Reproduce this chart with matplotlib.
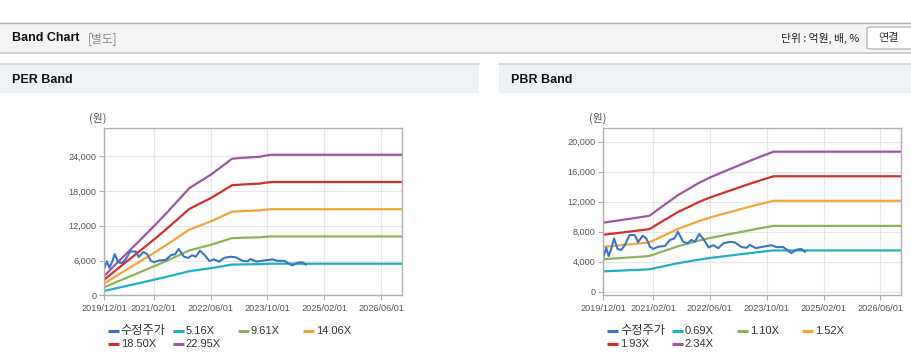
import numpy as np
import pandas as pd
import matplotlib
matplotlib.use('Agg')
import matplotlib.pyplot as plt
from matplotlib.patches import Rectangle, FancyBboxPatch
from matplotlib.lines import Line2D
from matplotlib.ticker import FuncFormatter

plt.rcParams['font.family'] = ['Liberation Sans', 'Noto Sans CJK KR', 'DejaVu Sans']
KR = ['Noto Sans CJK KR', 'Liberation Sans']

W, H = 912, 364

tick_dates = ['2019-12-01', '2021-02-01', '2022-06-01', '2023-10-01', '2025-02-01', '2026-06-01']
tick_labels = ['2019/12/01', '2021/02/01', '2022/06/01', '2023/10/01', '2025/02/01', '2026/06/01']
x_start, x_end = '2019-12-01', '2026-11-27'

# 수정주가 (adjusted price), shared by both charts
price_dates = ['2019-12-02', '2019-12-26', '2020-01-16', '2020-02-10', '2020-03-02', '2020-04-01',
               '2020-05-01', '2020-06-01', '2020-07-13', '2020-08-28', '2020-09-24', '2020-11-02',
               '2020-12-04', '2021-01-04', '2021-02-01', '2021-03-16', '2021-05-13', '2021-06-25',
               '2021-08-02', '2021-09-01', '2021-10-16', '2021-11-22', '2021-12-24', '2022-01-25',
               '2022-03-02', '2022-04-13', '2022-05-22', '2022-07-01', '2022-08-13', '2022-09-25',
               '2022-11-22', '2023-01-04', '2023-03-01', '2023-04-13', '2023-05-10', '2023-07-01',
               '2023-09-01', '2023-11-13', '2023-12-25', '2024-02-22', '2024-04-04', '2024-05-01',
               '2024-06-13', '2024-07-25', '2024-08-25']
price = [4600, 5850, 4750, 5850, 7100, 5700,
         5550, 6150, 7550, 7550, 6600, 7450,
         7100, 6000, 5700, 6000, 6100, 6900,
         7100, 8000, 6650, 6450, 6900, 6650,
         7700, 6900, 5900, 6200, 5800, 6450,
         6650, 6550, 5950, 5850, 6250, 5800,
         6000, 6200, 5950, 5950, 5450, 5150,
         5600, 5700, 5300]

# EPS behind the PER band
eps_dates = ['2019-12-01', '2020-03-01', '2020-06-01', '2020-09-01', '2020-12-01', '2021-03-01',
             '2021-06-01', '2021-09-01', '2021-12-01', '2022-03-01', '2022-06-01', '2022-09-01',
             '2022-12-01', '2023-03-01', '2023-06-01', '2023-08-01', '2023-09-01', '2023-11-01',
             '2026-12-01']
eps = [143, 225, 305, 385, 465, 545,
       630, 718, 805, 855, 905, 965,
       1026, 1033, 1038, 1041, 1048, 1056,
       1056]
per_multiples = [5.16, 9.61, 14.06, 18.50, 22.95]

# BPS behind the PBR band
bps_dates = ['2019-12-01', '2020-06-01', '2020-12-01', '2021-01-01', '2021-03-01', '2021-06-01',
             '2021-09-01', '2021-12-01', '2022-03-01', '2022-06-01', '2022-09-01', '2022-12-01',
             '2023-03-01', '2023-06-01', '2023-09-01', '2023-12-01', '2026-12-01']
bps = [3932, 4110, 4290, 4330, 4620, 5060,
       5500, 5850, 6200, 6500, 6760, 7010,
       7260, 7510, 7750, 7974, 7974]
pbr_multiples = [0.69, 1.10, 1.52, 1.93, 2.34]

price_color = '#3a74c6'
band_colors = ['#1fb0c6', '#8cb456', '#f3a43a', '#d0302c', '#9a57a2']


def fx(x):
	return x / W


def fy(y):
	return 1 - y / H


fig = plt.figure(figsize=(W / 100, H / 100), dpi=100)
fig.patch.set_facecolor('white')

# page header strip
fig.add_artist(Rectangle((0, fy(52.5)), 1, (52.5 - 22.5) / H, transform=fig.transFigure,
                         facecolor='#f4f4f4', edgecolor='none'))
fig.add_artist(Line2D([0, 1], [fy(22.5), fy(22.5)], transform=fig.transFigure, color='#b4b4b4', lw=1))
fig.add_artist(Line2D([0, 1], [fy(52.8), fy(52.8)], transform=fig.transFigure, color='#c8c8c8', lw=1.2))
fig.text(fx(12), fy(38), 'Band Chart', fontsize=9, fontweight='bold', color='#111', va='center')
fig.text(fx(88), fy(38.5), '[별도]', fontsize=8.5, color='#8a8a8a', va='center', family=KR)
fig.text(fx(859), fy(38), '단위 : 억원, 배, %', fontsize=7.8, color='#222', va='center', ha='right', family=KR)
fig.add_artist(FancyBboxPatch((fx(867), fy(49)), (915 - 867) / W, 22 / H, transform=fig.transFigure,
                              boxstyle='round,pad=0,rounding_size=0.004', facecolor='white', edgecolor='#b8b8b8', lw=1))
fig.text(fx(889), fy(38), '연결', fontsize=8, color='#333', va='center', ha='center', family=KR)

# panel headers
for x0, x1, title in [(0, 479, 'PER Band'), (499, 912, 'PBR Band')]:
	fig.add_artist(Rectangle((fx(x0), fy(92.5)), (x1 - x0) / W, 28.5 / H, transform=fig.transFigure,
	                         facecolor='#eef2f7', edgecolor='none'))
	fig.add_artist(Line2D([fx(x0), fx(x1)], [fy(64), fy(64)], transform=fig.transFigure, color='#d6d6d6', lw=1.2))
	fig.text(fx(x0 + 12), fy(80), title, fontsize=9, fontweight='bold', color='#111', va='center')


def draw_band(left, right, ylim, yticks, base_dates, base, multiples):
	ax = fig.add_axes([fx(left), fy(295.3), (right - left) / W, (295.3 - 128.3) / H])
	bd = pd.to_datetime(base_dates)
	for m, c in zip(multiples, band_colors):
		ax.plot(bd, np.array(base) * m, color=c, lw=1.6, solid_capstyle='butt')
	ax.plot(pd.to_datetime(price_dates), price, color=price_color, lw=1.5)

	ax.set_xlim(pd.Timestamp(x_start), pd.Timestamp(x_end))
	ax.set_ylim(*ylim)
	ax.set_xticks(pd.to_datetime(tick_dates))
	ax.set_xticklabels(tick_labels)
	ax.set_yticks(yticks)
	ax.yaxis.set_major_formatter(FuncFormatter(lambda v, p: f'{int(v):,}'))
	ax.grid(True, color='#e6e6e6', lw=0.8)
	ax.set_axisbelow(True)
	for s in ax.spines.values():
		s.set_color('#b0b0b0')
		s.set_linewidth(1)
	ax.tick_params(length=3.5, color='#b0b0b0', labelcolor='#555', labelsize=6.6, pad=2)
	ax.tick_params(axis='x', pad=3)

	fig.text(fx(left - 6), fy(118), '(원)', fontsize=7.8, color='#555', ha='center', va='center', family=KR)

	# legend, drawn by hand in two rows
	labels = ['수정주가'] + [f'{m:.2f}X' for m in multiples]
	colors = [price_color] + band_colors
	for i, (lab, c) in enumerate(zip(labels, colors)):
		row, col = divmod(i, 4)
		x = left + 3.6 + col * 65
		y = 330.7 + row * 13.5
		fig.add_artist(Line2D([fx(x), fx(x + 11)], [fy(y), fy(y)], transform=fig.transFigure,
		                      color=c, lw=2.2, solid_capstyle='butt'))
		fig.text(fx(x + 13), fy(y), lab, fontsize=8 if i else 8.8, color='#333', va='center',
		         family=KR if i == 0 else None)
	return ax


draw_band(104, 402, (0, 28800), [0, 6000, 12000, 18000, 24000], eps_dates, eps, per_multiples)
draw_band(603.3, 901, (-480, 21780), [0, 4000, 8000, 12000, 16000, 20000], bps_dates, bps, pbr_multiples)

fig.savefig('out.png', dpi=100)
